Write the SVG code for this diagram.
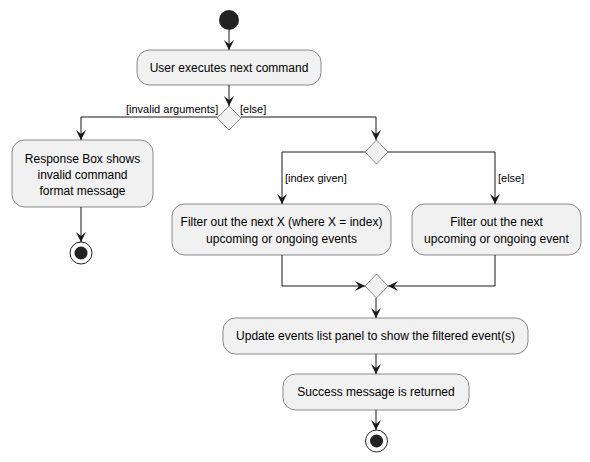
<svg xmlns="http://www.w3.org/2000/svg" width="590" height="462" viewBox="0 0 590 462">
<defs>
<style>
.node{fill:#F1F1F1;stroke:#181818;stroke-width:0.5}
.t{font-family:"Liberation Sans",Arial,sans-serif;font-size:12px;fill:#000;text-anchor:middle}
.g{font-family:"Liberation Sans",Arial,sans-serif;font-size:11px;fill:#000}
.ln{fill:none;stroke:#181818;stroke-width:1}
</style>
<marker id="ah" viewBox="0 0 10 10" refX="10" refY="5" markerWidth="10" markerHeight="10" markerUnits="userSpaceOnUse" orient="auto">
<polygon points="0,0 10,5 0,10 4,5" fill="#181818"/>
</marker>
</defs>
<rect width="590" height="462" fill="#FFFFFF"/>
<g id="connectors">
<path class="ln" d="M229,30 L229,50" marker-end="url(#ah)"/>
<path class="ln" d="M229,85 L229,106" marker-end="url(#ah)"/>
<path class="ln" d="M217,117 L81,117 L81,140" marker-end="url(#ah)"/>
<path class="ln" d="M241,117 L376,117 L376,140" marker-end="url(#ah)"/>
<path class="ln" d="M81,207 L81,242" marker-end="url(#ah)"/>
<path class="ln" d="M365,152 L282,152 L282,204" marker-end="url(#ah)"/>
<path class="ln" d="M388,152 L495,152 L495,204" marker-end="url(#ah)"/>
<path class="ln" d="M282,255 L282,286 L365,286" marker-end="url(#ah)"/>
<path class="ln" d="M495,255 L495,286 L388,286" marker-end="url(#ah)"/>
<path class="ln" d="M376,298 L376,318" marker-end="url(#ah)"/>
<path class="ln" d="M376,354 L376,374" marker-end="url(#ah)"/>
<path class="ln" d="M376,410 L376,430" marker-end="url(#ah)"/>
<text class="g" x="126" y="113">[invalid arguments]</text>
<text class="g" x="240" y="113">[else]</text>
<text class="g" x="285" y="182">[index given]</text>
<text class="g" x="498" y="182">[else]</text>
</g>
<g id="start"><circle cx="229" cy="20" r="10" fill="#222222"/></g>
<g id="user-executes">
<rect class="node" x="137" y="50" width="184" height="35" rx="12.5"/>
<text class="t" x="229" y="72">User executes next command</text>
</g>
<g id="decision1"><polygon class="node" points="229,106 241,118 229,130 217,118"/></g>
<g id="response-box">
<rect class="node" x="12" y="140" width="141" height="67" rx="12.5"/>
<text class="t" x="82.5" y="163">Response Box shows</text>
<text class="t" x="82.5" y="179">invalid command</text>
<text class="t" x="82.5" y="195">format message</text>
</g>
<g id="end1">
<circle cx="81" cy="253" r="11" fill="none" stroke="#222222" stroke-width="1"/>
<circle cx="81" cy="253" r="6.5" fill="#222222"/>
</g>
<g id="decision2"><polygon class="node" points="376.5,140 388,152 376.5,164 365,152"/></g>
<g id="filter-x">
<rect class="node" x="172" y="204" width="219" height="51" rx="12.5"/>
<text class="t" x="281.5" y="226">Filter out the next X (where X = index)</text>
<text class="t" x="281.5" y="243">upcoming or ongoing events</text>
</g>
<g id="filter-next">
<rect class="node" x="412" y="204" width="169" height="51" rx="12.5"/>
<text class="t" x="496.5" y="226">Filter out the next</text>
<text class="t" x="496.5" y="243">upcoming or ongoing event</text>
</g>
<g id="merge"><polygon class="node" points="376.5,274 388,286 376.5,298 365,286"/></g>
<g id="update">
<rect class="node" x="223" y="318" width="305" height="36" rx="12.5"/>
<text class="t" x="375.5" y="340">Update events list panel to show the filtered event(s)</text>
</g>
<g id="success">
<rect class="node" x="283" y="374" width="186" height="36" rx="12.5"/>
<text class="t" x="376" y="396">Success message is returned</text>
</g>
<g id="end2">
<circle cx="376.5" cy="441" r="11" fill="none" stroke="#222222" stroke-width="1"/>
<circle cx="376.5" cy="441" r="6.5" fill="#222222"/>
</g>
</svg>
